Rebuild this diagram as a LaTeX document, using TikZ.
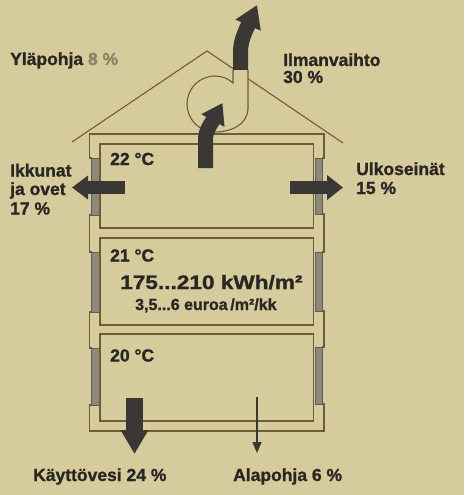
\documentclass[tikz,border=0pt]{standalone}
\usepackage{fontspec}
\setmainfont{Liberation Sans}[BoldFeatures={FakeBold=1.2}]
\usetikzlibrary{arrows.meta}
\definecolor{bg}{RGB}{213,203,157}
\definecolor{ln}{RGB}{110,93,52}
\definecolor{dk}{RGB}{58,56,52}
\definecolor{tx}{RGB}{42,39,35}
\definecolor{win}{RGB}{140,137,122}
\definecolor{winl}{RGB}{95,93,85}
\definecolor{lt}{RGB}{140,132,104}
\tikzset{
  wall/.style={draw=ln, line width=1.1pt, fill=bg},
  roofline/.style={draw=ln, line width=1.1pt},
  window/.style={draw=winl, fill=win, line width=0.6pt},
  lbl/.style={font=\bfseries\fontsize{17.5}{20}\selectfont, text=tx, anchor=base west, inner sep=0pt},
  flow/.style={draw=dk, line width=#1},
}
\begin{document}
\begin{tikzpicture}[x=1pt,y=-1pt]
\fill[bg] (0,0) rectangle (464,495);
\useasboundingbox (0,0) rectangle (464,495);

% roof
\coordinate (rl) at (72,142);
\coordinate (apex) at (207,51);
\coordinate (rr) at (343,143);
\draw[roofline] (rl) -- (apex) -- (rr);

% fan casing
\filldraw[wall] (233,70) -- (233,83) .. controls (228,78.5) and (222,76) .. (215,76)
  .. controls (199.5,76) and (187,88.5) .. (187,104)
  .. controls (187,119.5) and (199.5,132) .. (215,132)
  .. controls (232,132) and (248,124) .. (248,108) -- (248,70);

% house outer shell with window notches
\filldraw[wall] (89.5,134) -- (324,134) -- (324,158) -- (322.5,158) -- (322.5,214) -- (324,214)
  -- (324,252) -- (322.5,252) -- (322.5,311) -- (324,311) -- (324,347) -- (322.5,347)
  -- (322.5,404) -- (324,404) -- (324,431) -- (89.5,431) -- (89.5,405) -- (91.5,405)
  -- (91.5,348) -- (89.5,348) -- (89.5,312) -- (91.5,312) -- (91.5,252) -- (89.5,252)
  -- (89.5,215) -- (91.5,215) -- (91.5,158) -- (89.5,158) -- cycle;

% windows
\draw[window] (91.5,158) rectangle (99.5,215);
\draw[window] (91.5,252) rectangle (99.5,312);
\draw[window] (91.5,348) rectangle (99.5,405);
\draw[window] (315,158) rectangle (322.5,214);
\draw[window] (315,252) rectangle (322.5,311);
\draw[window] (315,347) rectangle (322.5,404);

% rooms
\draw[wall] (100,144) rectangle (313.5,228);
\draw[wall] (100,238) rectangle (313.5,325);
\draw[wall] (100,334) rectangle (313.5,421);

% arrows
\coordinate (ikA) at (125,187.5); \coordinate (ikB) at (72,187.5);
\coordinate (ulA) at (290,187.5); \coordinate (ulB) at (343,187.5);
\coordinate (kvA) at (134.5,398); \coordinate (kvB) at (134.5,454);
\coordinate (apA) at (257,397);   \coordinate (apB) at (257,453);
\coordinate (v1A) at (205.5,168); \coordinate (v1B) at (222.5,103);
\coordinate (v2A) at (240.5,70);  \coordinate (v2B) at (257,5);

\draw[flow=13pt, -{Triangle[width=23pt,length=16pt]}] (ikA) -- (ikB);
\draw[flow=13pt, -{Triangle[width=24pt,length=16pt]}] (ulA) -- (ulB);
\draw[flow=17pt, -{Triangle[width=26pt,length=24pt]}] (kvA) -- (kvB);
\draw[flow=1.5pt, -{Triangle[width=9pt,length=11pt]}] (apA) -- (apB);
\draw[flow=15pt, -{Triangle[width=25pt,length=20pt]}] (v1A) -- (205.5,140)
  .. controls (205.5,130) and (211,124) .. (v1B);
\draw[flow=15pt, -{Triangle[width=26pt,length=22pt]}] (v2A) -- (240.5,52)
  .. controls (240.5,40) and (246,30) .. (v2B);

% labels
\node[lbl] (ylap) at (10,65) {Yläpohja \textcolor{lt}{8 \%}};
\node[lbl] (ilm1) at (283,66) {Ilmanvaihto};
\node[lbl] (ilm2) at (283,83) {30 \%};
\node[lbl] (ikk1) at (10,176.5) {Ikkunat};
\node[lbl] (ikk2) at (10,195) {ja ovet};
\node[lbl] (ikk3) at (10,214.5) {17 \%};
\node[lbl] (ulk1) at (356,175) {Ulkoseinät};
\node[lbl] (ulk2) at (356,194) {15 \%};
\node[lbl] (t22) at (110,165) {22 °C};
\node[lbl] (t21) at (110,261.5) {21 °C};
\node[lbl, font=\bfseries\fontsize{19.5}{22}\selectfont, xscale=1.16] (kwh) at (120,289) {175...210 kWh/m²};
\node[lbl, font=\bfseries\fontsize{16}{18}\selectfont] (eur) at (135,310) {3,5...6 euroa\,/m²/kk};
\node[lbl] (t20) at (110,361.5) {20 °C};
\node[lbl] (kayt) at (33,481) {Käyttövesi 24 \%};
\node[lbl] (alap) at (233,481) {Alapohja 6 \%};
\end{tikzpicture}
\end{document}
